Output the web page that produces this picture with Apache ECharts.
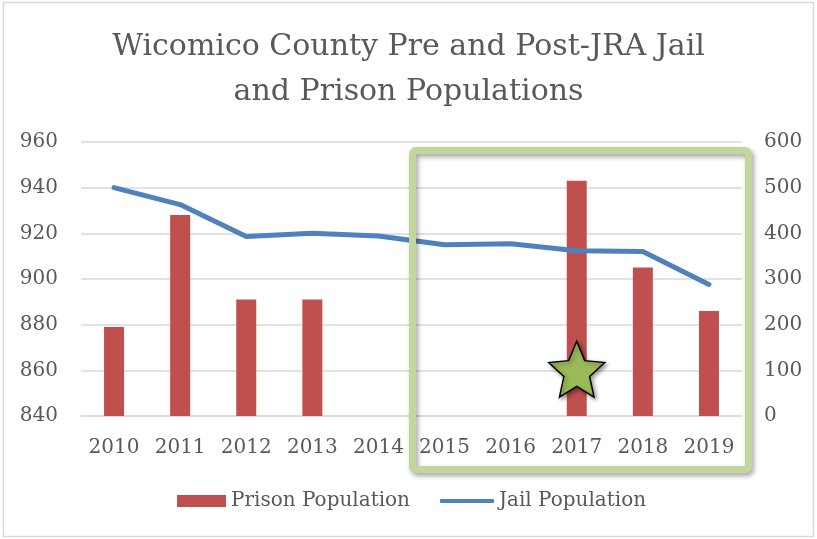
<!DOCTYPE html>
<html>
<head>
<meta charset="utf-8">
<script src="https://cdn.jsdelivr.net/npm/echarts@6/dist/echarts.min.js"></script>
<style>html,body{margin:0;padding:0;background:#fff}#c{width:817px;height:539px}</style>
</head>
<body>
<div id="c"></div>
<script>
const years = ['2010','2011','2012','2013','2014','2015','2016','2017','2018','2019'];
const prisonPopulation = [879, 928, 891, 891, null, null, null, 943, 905, 886];
const jailPopulation = [500, 463, 393, 400, 394, 375, 377, 362, 360, 288];
const leftTicks = {min: 840, max: 960, interval: 20};
const rightTicks = {min: 0, max: 600, interval: 100};
const starAt = ['2017', 860.5];

const FONT = 'DejaVu Serif';
const GREY = '#595959';
const chart = echarts.init(document.getElementById('c'), null, {renderer: 'canvas'});

function starPath(R, r) {
  let pts = [];
  for (let i = 0; i < 10; i++) {
    const a = -Math.PI / 2 + i * Math.PI / 5;
    const rr = i % 2 === 0 ? R : r;
    pts.push((50 + rr * Math.cos(a)).toFixed(2) + ',' + (50 + rr * Math.sin(a)).toFixed(2));
  }
  return 'path://M' + pts.join('L') + 'Z';
}

const legendText = {fontFamily: FONT, fontSize: 20, color: GREY};

chart.setOption({
  animation: false,
  backgroundColor: '#fff',
  title: {
    text: 'Wicomico County Pre and Post-JRA Jail\nand Prison Populations',
    left: 'center', top: 20,
    textStyle: {fontFamily: FONT, fontSize: 30, fontWeight: 'normal', color: GREY, lineHeight: 45}
  },
  legend: [
    {left: 172, top: 486, itemWidth: 49, itemHeight: 12, icon: 'rect',
     textStyle: legendText, data: ['Prison Population']},
    {left: 435, top: 486, itemWidth: 54, itemHeight: 4, icon: 'roundRect',
     textStyle: legendText, data: ['Jail Population']}
  ],
  grid: {left: 81, right: 75, top: 142, bottom: 123},
  xAxis: {
    type: 'category', data: years,
    axisLine: {lineStyle: {color: '#d9d9d9', width: 1.5}},
    axisTick: {show: false},
    axisLabel: {fontFamily: FONT, fontSize: 20, color: GREY, margin: 22, interval: 0, hideOverlap: false}
  },
  yAxis: [
    {type: 'value', min: leftTicks.min, max: leftTicks.max, interval: leftTicks.interval,
     axisLine: {show: false}, axisTick: {show: false},
     axisLabel: {fontFamily: FONT, fontSize: 20, color: GREY, margin: 23},
     splitLine: {lineStyle: {color: '#d9d9d9', width: 1.5}}},
    {type: 'value', min: rightTicks.min, max: rightTicks.max, interval: rightTicks.interval,
     axisLine: {show: false}, axisTick: {show: false},
     axisLabel: {fontFamily: FONT, fontSize: 20, color: GREY, margin: 22},
     splitLine: {show: false}}
  ],
  series: [
    {name: 'Prison Population', type: 'bar', yAxisIndex: 0, data: prisonPopulation,
     barWidth: 20, itemStyle: {color: '#c0504d'},
     markPoint: {
       symbol: starPath(50, 23), symbolSize: 56,
       data: [{coord: starAt}],
       label: {show: false},
       itemStyle: {color: '#9bbb59', borderColor: '#000', borderWidth: 1.5,
                   shadowBlur: 4, shadowOffsetX: 2, shadowOffsetY: 2, shadowColor: 'rgba(0,0,0,0.4)'},
       z: 10
     }},
    {name: 'Jail Population', type: 'line', yAxisIndex: 1, data: jailPopulation,
     showSymbol: false, symbol: 'none', smooth: false,
     lineStyle: {color: '#4f81bd', width: 5, cap: 'round', join: 'round'},
     itemStyle: {color: '#4f81bd'}}
  ]
});

// Annotation box around 2015-2019 and outer chart border
const boundary = chart.convertToPixel({xAxisIndex: 0}, '2015') - 33;
chart.setOption({
  graphic: [
    {type: 'rect', z: 100, silent: true,
     shape: {x: 3.5, y: 2.5, width: 810, height: 534},
     style: {fill: 'none', stroke: '#d9d9d9', lineWidth: 1.5}},
    {type: 'rect', z: 100, silent: true,
     shape: {x: boundary + 1, y: 150.5, width: 748.5 - boundary - 1, height: 319, r: 3},
     style: {fill: 'none', stroke: '#c3d69b', lineWidth: 7,
             shadowBlur: 5, shadowOffsetX: 2, shadowOffsetY: 3, shadowColor: 'rgba(0,0,0,0.35)'}}
  ]
});
</script>
</body>
</html>
